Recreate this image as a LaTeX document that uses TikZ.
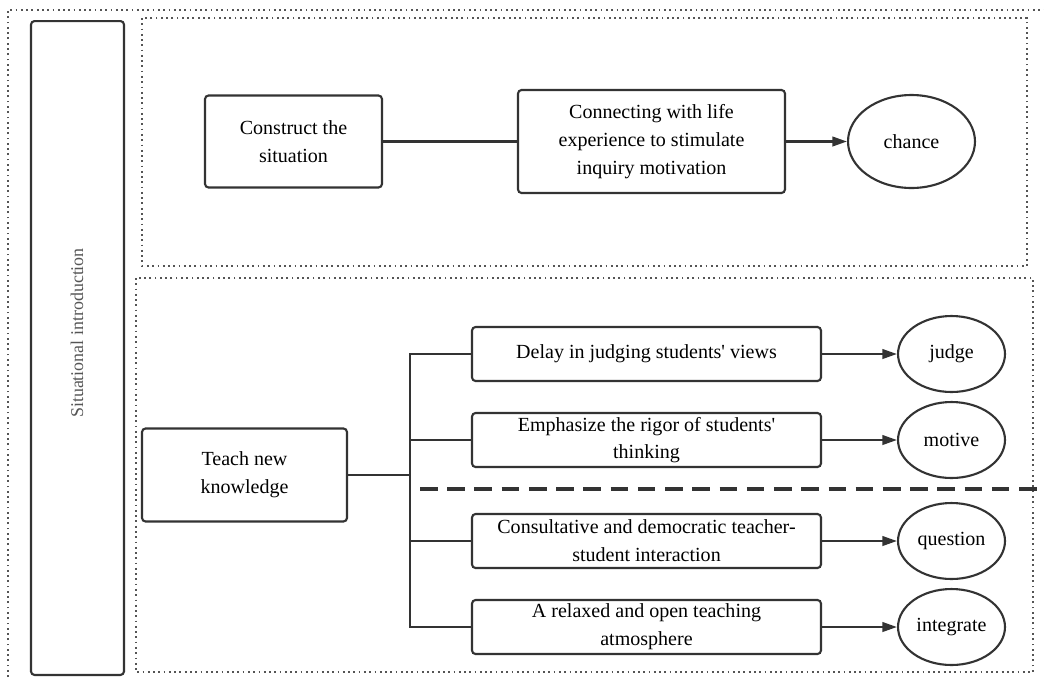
\documentclass[tikz,border=0pt]{standalone}
\usepackage{fontspec}
\setmainfont{Liberation Serif}
\usetikzlibrary{arrows.meta,shapes.geometric}

\definecolor{linegray}{HTML}{333333}
\definecolor{dotgray}{HTML}{555555}

\tikzset{
    stepbox/.style={draw=linegray, line width=1.2pt, rounded corners=2pt, align=center,
        font=\fontsize{11.4}{15.8}\selectfont, inner sep=2pt},
    goal/.style={draw=linegray, line width=1.2pt, ellipse, inner sep=1pt,
        font=\fontsize{11.4}{15.8}\selectfont},
    link/.style={draw=linegray, line width=1.3pt},
    arrowlink/.style={link, -{Triangle[length=2.9mm,width=1.9mm]}},
    frame/.style={draw=dotgray, line width=1pt, dotted}
}

\begin{document}
\begin{tikzpicture}[x=0.02cm, y=-0.02cm]
        \useasboundingbox (0,0) rectangle (1044,677);

        % Marcos punteados
        \draw[frame] (8,677) -- (8,10) -- (1044,10);
        \draw[frame] (142,18) rectangle (1027,266);
        \draw[frame] (136,278) rectangle (1033,672);

        % Columna lateral
        \node[stepbox, minimum width=1.86cm, minimum height=13.08cm] (side) at (77.5,348) {};
        \node[rotate=90, text=dotgray, font=\fontsize{10.2}{12}\selectfont] (sidetext) at (77,333) {Situational introduction};

        % Fila superior
        \node[stepbox, minimum width=3.54cm, minimum height=1.84cm] (construct) at (293.5,141.5) {Construct the\\situation};
        \node[stepbox, minimum width=5.34cm, minimum height=2.06cm] (connect) at (651.5,141.5) {Connecting with life\\experience to stimulate\\inquiry motivation};
        \node[goal, minimum width=2.54cm, minimum height=1.86cm] (chance) at (911.5,141.5) {chance};

        \draw[link] (construct) -- (connect);
        \draw[arrowlink] (connect) -- (chance);

        % Fila inferior
        \node[stepbox, minimum width=4.1cm, minimum height=1.86cm] (teach) at (244.5,475) {Teach new\\knowledge};
        \node[stepbox, minimum width=6.98cm, minimum height=1.08cm] (delay) at (646.5,354) {Delay in judging students\textquotesingle{} views};
        \node[stepbox, minimum width=6.98cm, minimum height=1.08cm] (rigor) at (646.5,440) {Emphasize the rigor of students\textquotesingle\\thinking};
        \node[stepbox, minimum width=6.98cm, minimum height=1.08cm] (consult) at (646.5,541) {Consultative and democratic teacher-\\student interaction};
        \node[stepbox, minimum width=6.98cm, minimum height=1.08cm] (relax) at (646.5,627) {A relaxed and open teaching\\atmosphere};

        \node[goal, minimum width=2.14cm, minimum height=1.52cm] (judge) at (951.5,354) {judge};
        \node[goal, minimum width=2.14cm, minimum height=1.52cm] (motive) at (951.5,440) {motive};
        \node[goal, minimum width=2.14cm, minimum height=1.52cm] (question) at (951.5,541) {question};
        \node[goal, minimum width=2.14cm, minimum height=1.52cm] (integrate) at (951.5,627) {integrate};

        % Tronco y ramas
        \coordinate (fork) at (410,475);
        \draw[link] (teach.east) -- (fork);
        \draw[link] (delay.west) -| (fork) |- (relax.west);
        \draw[link] (rigor.west) -- (rigor.west -| fork);
        \draw[link] (consult.west) -- (consult.west -| fork);

        \draw[arrowlink] (delay) -- (judge);
        \draw[arrowlink] (rigor) -- (motive);
        \draw[arrowlink] (consult) -- (question);
        \draw[arrowlink] (relax) -- (integrate);

        % Separador
        \coordinate (sepstart) at (420,489);
        \coordinate (sepend) at (1044,489);
        \draw[draw=linegray, line width=2pt, dash pattern=on 10pt off 5.5pt] (sepstart) -- (sepend);
    \end{tikzpicture}
\end{document}
